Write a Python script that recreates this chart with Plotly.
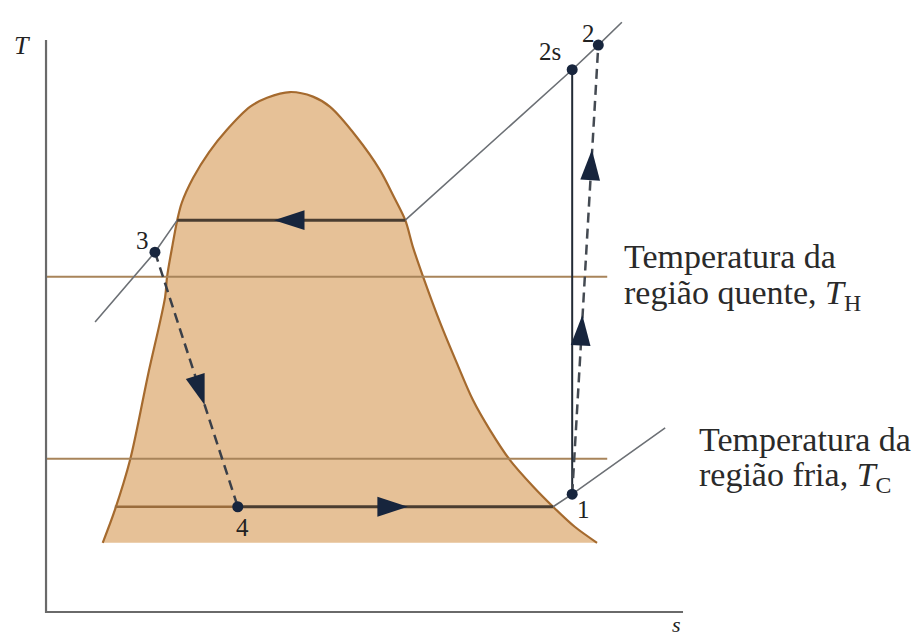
import plotly.graph_objects as go

# ---- data (s, T in arbitrary diagram units) ----
dome_s = [0.89, 1.08, 1.32, 1.60, 1.87, 1.90, 1.98, 2.06, 2.13, 2.31, 2.56, 2.84, 3.20, 3.47,
          3.83, 4.19, 4.46, 4.88, 5.24, 5.46, 5.64, 5.76, 5.92, 6.19, 6.45, 6.70, 6.97,
          7.28, 7.65, 7.96, 8.30, 8.65]
dome_T = [1.21, 1.78, 2.66, 4.14, 5.51, 5.86, 6.38, 6.85, 7.15, 7.59, 8.04, 8.43, 8.83, 8.99,
          9.09, 9.01, 8.83, 8.30, 7.73, 7.26, 6.85, 6.38, 5.86, 5.05, 4.35, 3.71, 3.18,
          2.66, 2.19, 1.84, 1.49, 1.21]

state_names = ["1", "2s", "2", "3", "4"]
state_s = [8.26, 8.26, 8.67, 1.71, 3.01]
state_T = [2.06, 9.48, 9.91, 6.29, 1.84]

T_hot = 5.86
T_cold = 2.68
s_reservoir_end = 8.81

# high-pressure isobar (through 3, condensation line, 2s, 2)
hp_left_s = [0.77, 1.71, 2.06]
hp_left_T = [5.07, 6.29, 6.85]
cond_s = [2.06, 5.64]
cond_T = [6.85, 6.85]
hp_right_s = [5.64, 8.26, 8.67, 9.04]
hp_right_T = [6.85, 9.48, 9.91, 10.31]

# low-pressure isobar (evaporation line through 4 and 1)
lp_left_s = [1.08, 3.01]
lp_left_T = [1.84, 1.84]
evap_s = [3.01, 7.96]
evap_T = [1.84, 1.84]
lp_right_s = [7.96, 8.26, 9.72]
lp_right_T = [1.84, 2.06, 3.22]

# arrow tips (s, T, screen angle)
arrow_s = [3.58, 5.68, 2.49, 8.42, 8.57]
arrow_T = [6.85, 1.84, 3.62, 5.19, 8.08]
arrow_ang = [270, 90, 162, 3.3, 3.3]

# axes
axis_top_T = 10.0
axis_end_s = 10.0

NAVY = "#17253d"
DARK = "#4a3d30"
GRAY = "#6c7075"
BROWN_LINE = "#a8845a"

fig = go.Figure()

# dome fill
fig.add_trace(go.Scatter(x=dome_s, y=dome_T, mode="lines", fill="toself",
                         fillcolor="#e6c197", line=dict(width=0, shape="spline", smoothing=0.9),
                         hoverinfo="skip"))
# dome outline
fig.add_trace(go.Scatter(x=dome_s, y=dome_T, mode="lines",
                         line=dict(color="#a56a2e", width=2.2, shape="spline", smoothing=0.9)))

# reservoir temperature lines
fig.add_trace(go.Scatter(x=[0, s_reservoir_end], y=[T_hot, T_hot], mode="lines",
                         line=dict(color=BROWN_LINE, width=2)))
fig.add_trace(go.Scatter(x=[0, s_reservoir_end], y=[T_cold, T_cold], mode="lines",
                         line=dict(color=BROWN_LINE, width=2)))

# isobars (thin gray)
for xs, ys in [(hp_left_s, hp_left_T), (hp_right_s, hp_right_T), (lp_right_s, lp_right_T)]:
    fig.add_trace(go.Scatter(x=xs, y=ys, mode="lines", line=dict(color=GRAY, width=1.6)))
fig.add_trace(go.Scatter(x=lp_left_s, y=lp_left_T, mode="lines",
                         line=dict(color="#9a6c3c", width=2.5)))

# cycle processes
fig.add_trace(go.Scatter(x=cond_s, y=cond_T, mode="lines", line=dict(color=DARK, width=3)))
fig.add_trace(go.Scatter(x=evap_s, y=evap_T, mode="lines", line=dict(color=DARK, width=3)))
# isentropic compression 1-2s
fig.add_trace(go.Scatter(x=[state_s[0], state_s[1]], y=[state_T[0], state_T[1]], mode="lines",
                         line=dict(color="#222a35", width=2)))
# actual compression 1-2 (dashed)
fig.add_trace(go.Scatter(x=[state_s[0], state_s[2]], y=[state_T[0], state_T[2]], mode="lines",
                         line=dict(color="#444a52", width=2.5, dash="10px,6px")))
# throttling 3-4 (dashed)
fig.add_trace(go.Scatter(x=[state_s[3], state_s[4]], y=[state_T[3], state_T[4]], mode="lines",
                         line=dict(color="#3a3f48", width=2.5, dash="10px,6px")))

# axes
fig.add_trace(go.Scatter(x=[0, 0, axis_end_s], y=[axis_top_T, 0, 0], mode="lines",
                         line=dict(color="#6a6a6a", width=2.2)))

# arrows
fig.add_trace(go.Scatter(x=arrow_s, y=arrow_T, mode="markers",
                         marker=dict(symbol="arrow", size=32, angle=arrow_ang,
                                     color=NAVY, line=dict(width=0))))

# state points
fig.add_trace(go.Scatter(x=state_s, y=state_T, mode="markers",
                         marker=dict(size=11, color=NAVY)))

SERIF = "Liberation Serif"
# state labels
label_pos = {"1": (8.43, 1.80), "2s": (7.91, 9.79), "2": (8.51, 10.12),
             "3": (1.52, 6.50), "4": (3.08, 1.47)}
for name in state_names:
    x, y = label_pos[name]
    fig.add_annotation(x=x, y=y, text=name, showarrow=False,
                       font=dict(family=SERIF, size=25, color="#222"))

# axis labels
fig.add_annotation(x=-0.38, y=9.91, text="<i>T</i>", showarrow=False,
                   font=dict(family=SERIF, size=26, color="#222"))
fig.add_annotation(x=9.9, y=-0.22, text="<i>s</i>", showarrow=False,
                   font=dict(family=SERIF, size=22, color="#222"))

# reservoir labels
lab_font = dict(family=SERIF, size=34, color="#2a2a2a")
fig.add_annotation(x=9.04, y=6.21, text="Temperatura da", showarrow=False,
                   xanchor="left", font=lab_font)
fig.add_annotation(x=9.04, y=5.54, text="região quente, <i>T</i><sub>H</sub>",
                   showarrow=False, xanchor="left", font=lab_font)
fig.add_annotation(x=10.22, y=3.01, text="Temperatura da", showarrow=False,
                   xanchor="left", font=lab_font)
fig.add_annotation(x=10.22, y=2.36, text="região fria, <i>T</i><sub>C</sub>",
                   showarrow=False, xanchor="left", font=lab_font)

# page body has an 8px margin: figure covers page pixels 8..924 x 8..639
fig.update_layout(
    width=916, height=631,
    margin=dict(l=0, r=0, t=0, b=0),
    paper_bgcolor="white", plot_bgcolor="white",
    showlegend=False,
    xaxis=dict(range=[-0.597, 13.783], visible=False, fixedrange=True),
    yaxis=dict(range=[-0.472, 10.559], visible=False, fixedrange=True),
)

fig.write_html("out.html")
